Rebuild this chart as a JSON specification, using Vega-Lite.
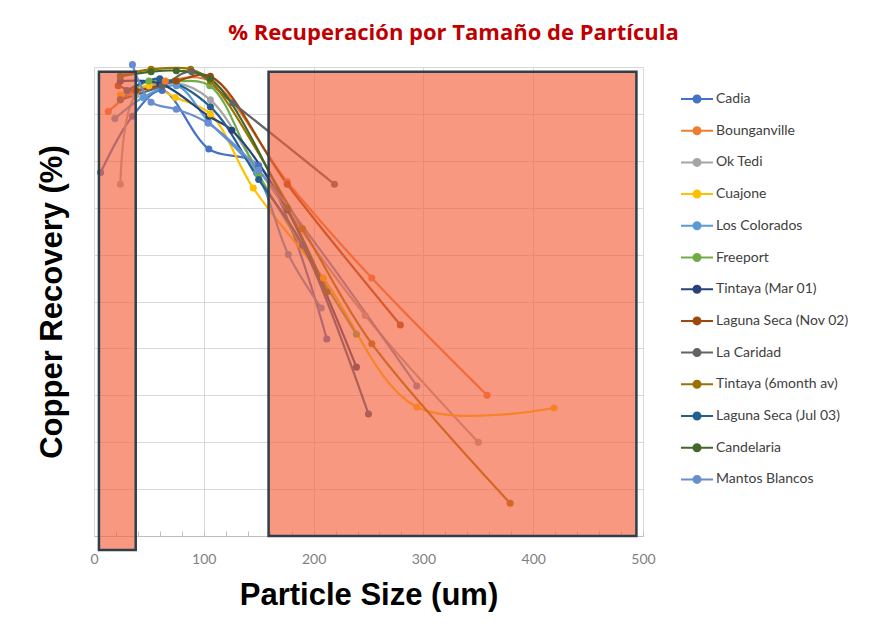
{
  "$schema": "https://vega.github.io/schema/vega-lite/v6.json",
  "width": 549,
  "height": 469,
  "autosize": {"type": "none"},
  "padding": {"left": 94, "top": 67, "right": 241, "bottom": 93},
  "background": "white",
  "title": {
    "text": "% Recuperación por Tamaño de Partícula",
    "font": "Open Sans",
    "fontSize": 22,
    "fontWeight": "bold",
    "color": "#C00000",
    "anchor": "middle",
    "frame": "group",
    "baseline": "alphabetic",
    "offset": -2,
    "dx": 85
  },
  "config": {"view": {"stroke": null}, "axis": {"labelOverlap": false}},
  "datasets": {
    "curves": [
      {"site": "Cadia", "x": 6, "y": 77.5}, {"site": "Cadia", "x": 35, "y": 89.5}, {"site": "Cadia", "x": 62, "y": 95}, {"site": "Cadia", "x": 104.6, "y": 82.5}, {"site": "Cadia", "x": 150, "y": 79}, {"site": "Cadia", "x": 212, "y": 42},
      {"site": "Bounganville", "x": 13, "y": 90.5}, {"site": "Bounganville", "x": 38, "y": 95}, {"site": "Bounganville", "x": 65, "y": 97}, {"site": "Bounganville", "x": 106, "y": 97}, {"site": "Bounganville", "x": 176, "y": 75.5}, {"site": "Bounganville", "x": 253, "y": 55}, {"site": "Bounganville", "x": 358, "y": 30},
      {"site": "Ok Tedi", "x": 24, "y": 75}, {"site": "Ok Tedi", "x": 38, "y": 94}, {"site": "Ok Tedi", "x": 75, "y": 96.5}, {"site": "Ok Tedi", "x": 106, "y": 93}, {"site": "Ok Tedi", "x": 150, "y": 78}, {"site": "Ok Tedi", "x": 247, "y": 47}, {"site": "Ok Tedi", "x": 350, "y": 20},
      {"site": "Cuajone", "x": 24, "y": 94}, {"site": "Cuajone", "x": 50, "y": 96}, {"site": "Cuajone", "x": 74, "y": 93.5}, {"site": "Cuajone", "x": 106, "y": 90}, {"site": "Cuajone", "x": 145, "y": 74.2}, {"site": "Cuajone", "x": 209, "y": 55}, {"site": "Cuajone", "x": 294, "y": 27.5}, {"site": "Cuajone", "x": 419, "y": 27.3},
      {"site": "Los Colorados", "x": 19, "y": 89}, {"site": "Los Colorados", "x": 44.6, "y": 93.5}, {"site": "Los Colorados", "x": 75, "y": 96}, {"site": "Los Colorados", "x": 104, "y": 88.5}, {"site": "Los Colorados", "x": 148, "y": 77.4}, {"site": "Los Colorados", "x": 177, "y": 60}, {"site": "Los Colorados", "x": 207, "y": 48.6},
      {"site": "Freeport", "x": 24, "y": 93}, {"site": "Freeport", "x": 50, "y": 97}, {"site": "Freeport", "x": 75, "y": 97}, {"site": "Freeport", "x": 105.5, "y": 96}, {"site": "Freeport", "x": 150, "y": 77}, {"site": "Freeport", "x": 239, "y": 43},
      {"site": "Tintaya (Mar 01)", "x": 24, "y": 97}, {"site": "Tintaya (Mar 01)", "x": 60, "y": 96.5}, {"site": "Tintaya (Mar 01)", "x": 104.6, "y": 89.5}, {"site": "Tintaya (Mar 01)", "x": 125.5, "y": 86.5}, {"site": "Tintaya (Mar 01)", "x": 176, "y": 69.5}, {"site": "Tintaya (Mar 01)", "x": 239, "y": 36},
      {"site": "Laguna Seca (Nov 02)", "x": 22, "y": 96}, {"site": "Laguna Seca (Nov 02)", "x": 38, "y": 95}, {"site": "Laguna Seca (Nov 02)", "x": 75, "y": 97}, {"site": "Laguna Seca (Nov 02)", "x": 106, "y": 98}, {"site": "Laguna Seca (Nov 02)", "x": 176, "y": 75}, {"site": "Laguna Seca (Nov 02)", "x": 279, "y": 45},
      {"site": "La Caridad", "x": 24, "y": 93}, {"site": "La Caridad", "x": 62, "y": 96}, {"site": "La Caridad", "x": 89, "y": 99}, {"site": "La Caridad", "x": 126.5, "y": 92.3}, {"site": "La Caridad", "x": 219, "y": 75},
      {"site": "Tintaya (6month av)", "x": 24, "y": 98.3}, {"site": "Tintaya (6month av)", "x": 52, "y": 99.5}, {"site": "Tintaya (6month av)", "x": 88, "y": 99.5}, {"site": "Tintaya (6month av)", "x": 106, "y": 97}, {"site": "Tintaya (6month av)", "x": 190, "y": 65.5}, {"site": "Tintaya (6month av)", "x": 253, "y": 41}, {"site": "Tintaya (6month av)", "x": 379, "y": 7},
      {"site": "Laguna Seca (Jul 03)", "x": 30, "y": 95}, {"site": "Laguna Seca (Jul 03)", "x": 60, "y": 97.5}, {"site": "Laguna Seca (Jul 03)", "x": 106, "y": 91.5}, {"site": "Laguna Seca (Jul 03)", "x": 150, "y": 76}, {"site": "Laguna Seca (Jul 03)", "x": 190, "y": 62}, {"site": "Laguna Seca (Jul 03)", "x": 250, "y": 26},
      {"site": "Candelaria", "x": 24, "y": 98}, {"site": "Candelaria", "x": 52, "y": 99}, {"site": "Candelaria", "x": 75, "y": 99.2}, {"site": "Candelaria", "x": 106, "y": 97.5}, {"site": "Candelaria", "x": 176, "y": 70}, {"site": "Candelaria", "x": 212, "y": 52},
      {"site": "Mantos Blancos", "x": 35, "y": 100.5}, {"site": "Mantos Blancos", "x": 52, "y": 92.5}, {"site": "Mantos Blancos", "x": 75, "y": 91}, {"site": "Mantos Blancos", "x": 104, "y": 88}, {"site": "Mantos Blancos", "x": 150, "y": 78}, {"site": "Mantos Blancos", "x": 294, "y": 32}
    ],
    "zones": [
      {"x0": 4.5, "x1": 38, "y0": -3, "y1": 99},
      {"x0": 159, "x1": 494, "y0": 0, "y1": 99}
    ]
  },
  "layer": [
    {
      "data": {"name": "curves"},
      "mark": {"type": "line", "interpolate": "catmull-rom", "strokeWidth": 2.2, "point": {"filled": true, "size": 50, "opacity": 1}},
      "encoding": {
        "x": {
          "field": "x", "type": "quantitative",
          "title": "Particle Size (um)",
          "scale": {"domain": [0, 500], "nice": false},
          "axis": {
            "values": [0, 20, 40, 60, 80, 100, 120, 140, 160, 180, 200, 220, 240, 260, 280, 300, 320, 340, 360, 380, 400, 420, 440, 460, 480, 500],
            "tickCount": 40,
            "labelExpr": "datum.value % 100 === 0 ? datum.label : ''",
            "labelOverlap": false,
            "labelFlush": false,
            "labelBound": false,
            "grid": true,
            "gridColor": "#d9d9d9",
            "gridOpacity": {"condition": {"test": "datum.value % 100 === 0", "value": 1}, "value": 0},
            "tickSize": -5,
            "tickColor": "#bfbfbf",
            "domainColor": "#bfbfbf",
            "labelColor": "#7f7f7f",
            "labelFont": "Lato",
            "labelFontSize": 14,
            "labelPadding": 21,
            "titleFont": "Liberation Sans",
            "titleFontWeight": "bold",
            "titleFontSize": 31,
            "titleColor": "#000000",
            "titlePadding": 14
          }
        },
        "y": {
          "field": "y", "type": "quantitative",
          "title": "Copper Recovery (%)",
          "scale": {"domain": [0, 100], "nice": false},
          "axis": {
            "values": [0, 10, 20, 30, 40, 50, 60, 70, 80, 90, 100],
            "tickCount": 20,
            "labels": false,
            "ticks": false,
            "grid": true,
            "gridColor": "#d9d9d9",
            "domainColor": "#d9d9d9",
            "titleFont": "Liberation Sans",
            "titleFontWeight": "bold",
            "titleFontSize": 31,
            "titleColor": "#000000",
            "titlePadding": 26
          }
        },
        "color": {
          "field": "site", "type": "nominal",
          "scale": {
            "domain": ["Cadia", "Bounganville", "Ok Tedi", "Cuajone", "Los Colorados", "Freeport", "Tintaya (Mar 01)", "Laguna Seca (Nov 02)", "La Caridad", "Tintaya (6month av)", "Laguna Seca (Jul 03)", "Candelaria", "Mantos Blancos"],
            "range": ["#4472C4", "#ED7D31", "#A5A5A5", "#FFC000", "#5B9BD5", "#70AD47", "#264478", "#9E480E", "#636363", "#997300", "#255E91", "#43682B", "#698ED0"]
          },
          "legend": {
            "orient": "none",
            "legendX": 586,
            "legendY": 15,
            "title": null,
            "symbolType": "M-1,0H1M-0.22,0A0.22,0.22,0,1,1,0.22,0A0.22,0.22,0,1,1,-0.22,0Z",
            "symbolSize": 1024,
            "symbolStrokeWidth": 2,
            "labelFont": "Lato",
            "labelFontSize": 14,
            "labelColor": "#404040",
            "labelOffset": 2,
            "rowPadding": 6.7,
            "padding": 0,
            "encode": {"symbols": {"update": {"fill": {"scale": "color", "field": "value"}, "stroke": {"scale": "color", "field": "value"}, "opacity": {"value": 1}}}}
          }
        },
        "order": {"field": "x", "type": "quantitative"}
      }
    },
    {
      "data": {"name": "zones"},
      "mark": {"type": "rect", "fill": "#F5613C", "fillOpacity": 0.65, "stroke": "#2E3F4C", "strokeWidth": 2.5, "clip": false},
      "encoding": {
        "x": {"field": "x0", "type": "quantitative", "title": "Particle Size (um)"},
        "x2": {"field": "x1"},
        "y": {"field": "y0", "type": "quantitative", "title": "Copper Recovery (%)"},
        "y2": {"field": "y1"}
      }
    }
  ]
}
